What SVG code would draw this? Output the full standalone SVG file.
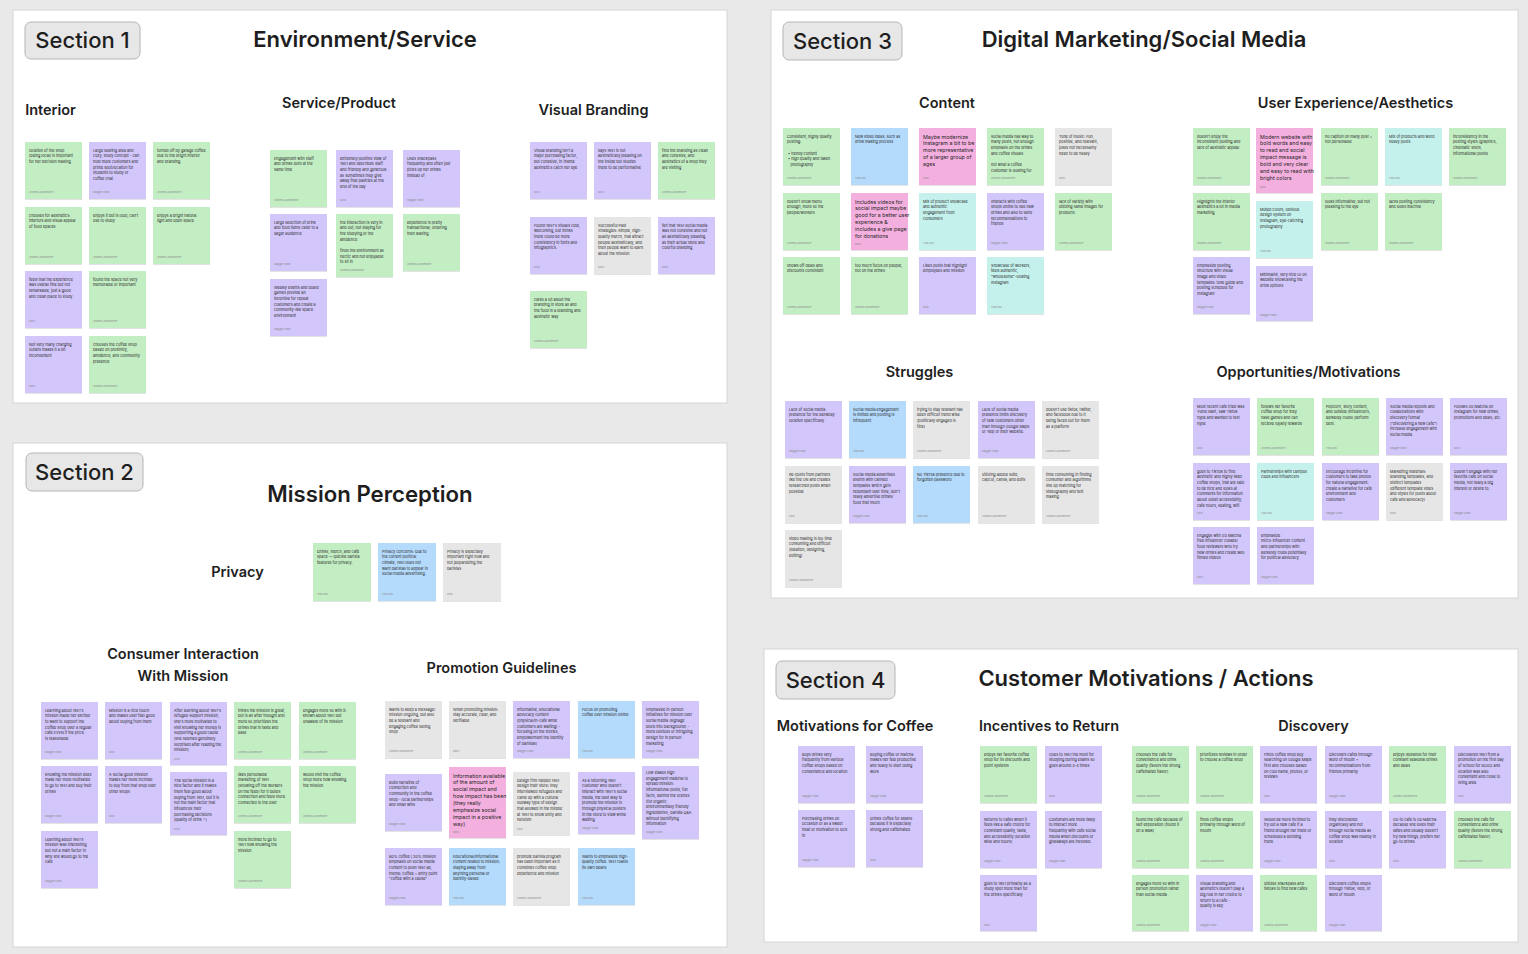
<svg xmlns="http://www.w3.org/2000/svg" width="1528" height="954" viewBox="0 0 1528 954">
<defs>
<filter id="sh" x="-10%" y="-10%" width="120%" height="125%"><feDropShadow dx="0" dy="0.6" stdDeviation="0.6" flood-color="#000" flood-opacity="0.18"/></filter>
<style>
.bg{fill:#e9e9e9}
.panel{fill:#fff;stroke:#d6d6d6;stroke-width:1}
.sec rect{fill:#e7e7e7;stroke:#b5b5b5;stroke-width:1}
.sec text{font-family:Inter,"Liberation Sans",sans-serif;font-size:22px;font-weight:500;fill:#1e1e1e;text-anchor:middle}
.ttl{font-family:Inter,"Liberation Sans",sans-serif;font-size:22px;font-weight:600;fill:#1e1e1e;text-anchor:middle}
.sub{font-family:Inter,"Liberation Sans",sans-serif;font-size:14.5px;font-weight:600;fill:#1e1e1e;text-anchor:middle}
.n rect{filter:url(#sh)}
.g{fill:#c3edc3}.p{fill:#d3c6fb}.b{fill:#b4dafc}.y{fill:#e6e6e6}.k{fill:#f3afdd}.c{fill:#c4f1ec}
.t{font-family:Inter,"Liberation Sans",sans-serif;font-size:3.75px;fill:#262626}
.tb{font-family:Inter,"Liberation Sans",sans-serif;font-size:5.3px;fill:#262626}
.a{font-family:Inter,"Liberation Sans",sans-serif;font-size:2.6px;fill:#8a8a8a}
</style>
</defs>
<rect class="bg" x="0" y="0" width="1528" height="954"/>

<g id="panels">
<rect class="panel" x="13" y="10" width="714" height="393"/>
<rect class="panel" x="771" y="10" width="747" height="588"/>
<rect class="panel" x="13" y="443" width="714" height="504"/>
<rect class="panel" x="764" y="649" width="754" height="293"/>
</g>

<g id="headers">
<g class="sec" id="sec1"><rect x="25" y="22" width="115" height="37" rx="6"/><text x="82.5" y="48">Section 1</text></g>
<g class="sec" id="sec3"><rect x="783" y="22" width="119" height="38" rx="6"/><text x="842.5" y="48.5">Section 3</text></g>
<g class="sec" id="sec2"><rect x="26" y="453" width="117" height="38" rx="6"/><text x="84.5" y="480">Section 2</text></g>
<g class="sec" id="sec4"><rect x="776" y="661" width="119" height="38" rx="6"/><text x="835.5" y="688">Section 4</text></g>
<text class="ttl" x="365" y="47">Environment/Service</text>
<text class="ttl" x="1144" y="47">Digital Marketing/Social Media</text>
<text class="ttl" x="370" y="502" style="font-size:22.2px">Mission Perception</text>
<text class="ttl" x="1146" y="686">Customer Motivations / Actions</text>
<text class="sub" x="50.5" y="115">Interior</text>
<text class="sub" x="339" y="108">Service/Product</text>
<text class="sub" x="593.5" y="115">Visual Branding</text>
<text class="sub" x="947" y="108">Content</text>
<text class="sub" x="1355.5" y="108">User Experience/Aesthetics</text>
<text class="sub" x="919.5" y="377">Struggles</text>
<text class="sub" x="1308.5" y="377">Opportunities/Motivations</text>
<text class="sub" x="237.5" y="577">Privacy</text>
<text class="sub" x="183" y="659">Consumer Interaction</text>
<text class="sub" x="183" y="681">With Mission</text>
<text class="sub" x="501.5" y="673">Promotion Guidelines</text>
<text class="sub" x="855" y="731">Motivations for Coffee</text>
<text class="sub" x="1049" y="731">Incentives to Return</text>
<text class="sub" x="1313.5" y="731">Discovery</text>
</g>

<!-- Section 1: Interior -->
<g id="s1-interior">
<g class="n" id="int1" transform="translate(25,142)"><rect class="g" width="57" height="57"/><text class="t"><tspan x="4" y="9.5">location of the shop</tspan><tspan x="4" y="15.2">(being local) is important</tspan><tspan x="4" y="20.9">for her decision making</tspan></text><text class="a" x="4" y="51">Andrea Lauramonte</text></g>
<g class="n" id="int2" transform="translate(89,142)"><rect class="p" width="57" height="57"/><text class="t"><tspan x="4" y="9.5">Large seating area and</tspan><tspan x="4" y="15.2">cozy, study concept - can</tspan><tspan x="4" y="20.9">hold more customers and</tspan><tspan x="4" y="26.6">prime spot/location for</tspan><tspan x="4" y="32.3">students to study or</tspan><tspan x="4" y="38">coffee chat</tspan></text><text class="a" x="4" y="51">Maggie Kwan</text></g>
<g class="n" id="int3" transform="translate(153,142)"><rect class="g" width="57" height="57"/><text class="t"><tspan x="4" y="9.5">turned off by garage coffee</tspan><tspan x="4" y="15.2">due to the bright interior</tspan><tspan x="4" y="20.9">and branding</tspan></text><text class="a" x="4" y="51">Andrea Lauramonte</text></g>
<g class="n" id="int4" transform="translate(25,207)"><rect class="g" width="57" height="57"/><text class="t"><tspan x="4" y="9.5">chooses for aesthetics:</tspan><tspan x="4" y="15.2">interiors and visual appeal</tspan><tspan x="4" y="20.9">of food spaces</tspan></text><text class="a" x="4" y="51">Andrea Lauramonte</text></g>
<g class="n" id="int5" transform="translate(89,207)"><rect class="g" width="57" height="57"/><text class="t"><tspan x="4" y="9.5">enjoys it but is loud, can't</tspan><tspan x="4" y="15.2">use to study</tspan></text><text class="a" x="4" y="51">Andrea Lauramonte</text></g>
<g class="n" id="int6" transform="translate(153,207)"><rect class="g" width="57" height="57"/><text class="t"><tspan x="4" y="9.5">enjoys a bright natural</tspan><tspan x="4" y="15.2">light and open space</tspan></text><text class="a" x="4" y="51">Andrea Lauramonte</text></g>
<g class="n" id="int7" transform="translate(25,271)"><rect class="p" width="57" height="57"/><text class="t"><tspan x="4" y="9.5">feels that the experience</tspan><tspan x="4" y="15.2">was overall fine but not</tspan><tspan x="4" y="20.9">remarkable, just a good</tspan><tspan x="4" y="26.6">and clean place to study</tspan></text><text class="a" x="4" y="51">Nikki</text></g>
<g class="n" id="int8" transform="translate(89,271)"><rect class="g" width="57" height="57"/><text class="t"><tspan x="4" y="9.5">found the space not very</tspan><tspan x="4" y="15.2">memorable or important</tspan></text><text class="a" x="4" y="51">Andrea Lauramonte</text></g>
<g class="n" id="int9" transform="translate(25,336)"><rect class="p" width="57" height="57"/><text class="t"><tspan x="4" y="9.5">Not very many charging</tspan><tspan x="4" y="15.2">outlets makes it a bit</tspan><tspan x="4" y="20.9">inconvenient</tspan></text><text class="a" x="4" y="51">Nikki</text></g>
<g class="n" id="int10" transform="translate(89,336)"><rect class="g" width="57" height="57"/><text class="t"><tspan x="4" y="9.5">chooses the coffee shop</tspan><tspan x="4" y="15.2">based on proximity,</tspan><tspan x="4" y="20.9">ambience, and community</tspan><tspan x="4" y="26.6">presence</tspan></text><text class="a" x="4" y="51">Andrea Lauramonte</text></g>
</g>

<!-- Section 1: Service/Product -->
<g id="s1-service">
<g class="n" id="svc1" transform="translate(270,150)"><rect class="g" width="57" height="57"/><text class="t"><tspan x="4" y="9.5">Engagement with staff</tspan><tspan x="4" y="15.2">and drinks both at the</tspan><tspan x="4" y="20.9">same time</tspan></text><text class="a" x="4" y="51">Andrea Lauramonte</text></g>
<g class="n" id="svc2" transform="translate(336,150)"><rect class="p" width="57" height="57"/><text class="t"><tspan x="4" y="9.5">extremely positive view of</tspan><tspan x="4" y="15.2">1951 and describes staff</tspan><tspan x="4" y="20.9">and friendly and generous</tspan><tspan x="4" y="26.6">as sometimes they give</tspan><tspan x="4" y="32.3">away free pastries at the</tspan><tspan x="4" y="38">end of the day</tspan></text><text class="a" x="4" y="51">Nikki</text></g>
<g class="n" id="svc3" transform="translate(403,150)"><rect class="p" width="57" height="57"/><text class="t"><tspan x="4" y="9.5">Uses Snackpass</tspan><tspan x="4" y="15.2">frequently and often just</tspan><tspan x="4" y="20.9">picks up her drinks</tspan><tspan x="4" y="26.6">instead of</tspan></text><text class="a" x="4" y="51">Maggie Kwan</text></g>
<g class="n" id="svc4" transform="translate(270,214)"><rect class="p" width="57" height="57"/><text class="t"><tspan x="4" y="9.5">Large selection of drink</tspan><tspan x="4" y="15.2">and food items cater to a</tspan><tspan x="4" y="20.9">larger audience</tspan></text><text class="a" x="4" y="51">Maggie Kwan</text></g>
<g class="n" id="svc5" transform="translate(336,214)"><rect class="g" width="57" height="63"/><text class="t"><tspan x="4" y="9.5">the interaction is very in</tspan><tspan x="4" y="15.2">and out, not staying for</tspan><tspan x="4" y="20.9">the studying or the</tspan><tspan x="4" y="26.6">ambience</tspan><tspan x="4" y="38">finds the environment as</tspan><tspan x="4" y="43.7">hectic and not enjoyable</tspan><tspan x="4" y="49.4">to sit in</tspan></text><text class="a" x="4" y="57">Andrea Lauramonte</text></g>
<g class="n" id="svc6" transform="translate(403,214)"><rect class="g" width="57" height="57"/><text class="t"><tspan x="4" y="9.5">experience is pretty</tspan><tspan x="4" y="15.2">transactional, ordering</tspan><tspan x="4" y="20.9">then leaving</tspan></text><text class="a" x="4" y="51">Andrea Lauramonte</text></g>
<g class="n" id="svc7" transform="translate(270,279)"><rect class="p" width="57" height="57"/><text class="t"><tspan x="4" y="9.5">Weekly events and board</tspan><tspan x="4" y="15.2">games provide an</tspan><tspan x="4" y="20.9">incentive for repeat</tspan><tspan x="4" y="26.6">customers and create a</tspan><tspan x="4" y="32.3">community-like space</tspan><tspan x="4" y="38">environment</tspan></text><text class="a" x="4" y="51">Maggie Kwan</text></g>
</g>

<!-- Section 1: Visual Branding -->
<g id="s1-branding">
<g class="n" id="vb1" transform="translate(530,142)"><rect class="p" width="57" height="57"/><text class="t"><tspan x="4" y="9.5">Visual branding isn't a</tspan><tspan x="4" y="15.2">major purchasing factor,</tspan><tspan x="4" y="20.9">but cohesive, in-theme</tspan><tspan x="4" y="26.6">aesthetics catch her eye</tspan></text><text class="a" x="4" y="51">Mira</text></g>
<g class="n" id="vb2" transform="translate(594,142)"><rect class="p" width="57" height="57"/><text class="t"><tspan x="4" y="9.5">says 1951 is not</tspan><tspan x="4" y="15.2">aesthetically pleasing on</tspan><tspan x="4" y="20.9">the inside but studies</tspan><tspan x="4" y="26.6">there to be performative</tspan></text><text class="a" x="4" y="51">Nikki</text></g>
<g class="n" id="vb3" transform="translate(658,142)"><rect class="g" width="57" height="57"/><text class="t"><tspan x="4" y="9.5">find the branding as clean</tspan><tspan x="4" y="15.2">and cohesive, and</tspan><tspan x="4" y="20.9">aesthetics of a shop they</tspan><tspan x="4" y="26.6">are visiting</tspan></text><text class="a" x="4" y="51">Andrea Lauramonte</text></g>
<g class="n" id="vb4" transform="translate(530,217)"><rect class="p" width="57" height="57"/><text class="t"><tspan x="4" y="9.5">Found 1951's visuals cute,</tspan><tspan x="4" y="15.2">welcoming, but thinks</tspan><tspan x="4" y="20.9">there could be more</tspan><tspan x="4" y="26.6">consistency in fonts and</tspan><tspan x="4" y="32.3">infographics.</tspan></text><text class="a" x="4" y="51">Mira</text></g>
<g class="n" id="vb5" transform="translate(594,217)"><rect class="y" width="57" height="57"/><text class="t"><tspan x="4" y="9.5">Successful Past</tspan><tspan x="4" y="15.2">Strategies: Simple, high-</tspan><tspan x="4" y="20.9">quality merch, that attract</tspan><tspan x="4" y="26.6">people aesthetically, and</tspan><tspan x="4" y="32.3">then people want to learn</tspan><tspan x="4" y="38">about the mission</tspan></text><text class="a" x="4" y="51">Nikki</text></g>
<g class="n" id="vb6" transform="translate(658,217)"><rect class="p" width="57" height="57"/><text class="t"><tspan x="4" y="9.5">felt that 1951 social media</tspan><tspan x="4" y="15.2">was not cohesive and not</tspan><tspan x="4" y="20.9">as aesthetically pleasing</tspan><tspan x="4" y="26.6">as their actual store and</tspan><tspan x="4" y="32.3">colorful branding</tspan></text><text class="a" x="4" y="51">Nikki</text></g>
<g class="n" id="vb7" transform="translate(530,291)"><rect class="g" width="57" height="57"/><text class="t"><tspan x="4" y="9.5">cares a lot about the</tspan><tspan x="4" y="15.2">branding in store all and</tspan><tspan x="4" y="20.9">the food in a branding and</tspan><tspan x="4" y="26.6">aesthetic way</tspan></text><text class="a" x="4" y="51">Andrea Lauramonte</text></g>
</g>

<!-- Section 3: Content -->
<g id="s3-content">
<g class="n" id="ct1" transform="translate(783,128)"><rect class="g" width="57" height="57"/><text class="t"><tspan x="4" y="9.5">Consistent, highly quality</tspan><tspan x="4" y="15.2">posting:</tspan><tspan x="5" y="26.6">• trendy content</tspan><tspan x="5" y="32.3">• high quality and taken</tspan><tspan x="7.5" y="38">photography</tspan></text><text class="a" x="4" y="51">Andrea Lauramonte</text></g>
<g class="n" id="ct2" transform="translate(851,128)"><rect class="b" width="57" height="57"/><text class="t"><tspan x="4" y="9.5">New video ideas, such as</tspan><tspan x="4" y="15.2">drink making process</tspan></text><text class="a" x="4" y="51">Tina Zou</text></g>
<g class="n" id="ct3" transform="translate(919,128)"><rect class="k" width="57" height="57"/><text class="tb"><tspan x="4" y="10.5">Maybe modernize</tspan><tspan x="4" y="17.4">Instagram a bit to be</tspan><tspan x="4" y="24.3">more representative</tspan><tspan x="4" y="31.2">of a larger group of</tspan><tspan x="4" y="38.1">ages</tspan></text><text class="a" x="4" y="51">Mira</text></g>
<g class="n" id="ct4" transform="translate(987,128)"><rect class="g" width="57" height="57"/><text class="t"><tspan x="4" y="9.5">social media has way to</tspan><tspan x="4" y="15.2">many posts, not enough</tspan><tspan x="4" y="20.9">emphasis on the drinks</tspan><tspan x="4" y="26.6">and coffee visuals</tspan><tspan x="4" y="38">not what a coffee</tspan><tspan x="4" y="43.7">customer is looking for</tspan></text><text class="a" x="4" y="51">Andrea Lauramonte</text></g>
<g class="n" id="ct5" transform="translate(1055,128)"><rect class="y" width="57" height="57"/><text class="t"><tspan x="4" y="9.5">Tone of music: Fun,</tspan><tspan x="4" y="15.2">positive, and relevant,</tspan><tspan x="4" y="20.9">jokes not necessarily</tspan><tspan x="4" y="26.6">need to be heavy</tspan></text><text class="a" x="4" y="51">Nikki</text></g>
<g class="n" id="ct6" transform="translate(783,193)"><rect class="g" width="57" height="57"/><text class="t"><tspan x="4" y="9.5">doesn't show menu</tspan><tspan x="4" y="15.2">enough, more so the</tspan><tspan x="4" y="20.9">people/workers</tspan></text><text class="a" x="4" y="51">Andrea Lauramonte</text></g>
<g class="n" id="ct7" transform="translate(851,193)"><rect class="k" width="57" height="57"/><text class="tb"><tspan x="4" y="10.5">Includes videos for</tspan><tspan x="4" y="17.4">social impact maybe</tspan><tspan x="4" y="24.3">good for a better user</tspan><tspan x="4" y="31.2">experience &amp;</tspan><tspan x="4" y="38.1">includes a give page</tspan><tspan x="4" y="45">for donations</tspan></text><text class="a" x="4" y="52">Mira</text></g>
<g class="n" id="ct8" transform="translate(919,193)"><rect class="c" width="57" height="57"/><text class="t"><tspan x="4" y="9.5">Mix of product showcase</tspan><tspan x="4" y="15.2">and authentic</tspan><tspan x="4" y="20.9">engagement from</tspan><tspan x="4" y="26.6">consumers</tspan></text><text class="a" x="4" y="51">Tina Zou</text></g>
<g class="n" id="ct9" transform="translate(987,193)"><rect class="p" width="57" height="57"/><text class="t"><tspan x="4" y="9.5">Interacts with coffee</tspan><tspan x="4" y="15.2">shops online to see new</tspan><tspan x="4" y="20.9">drinks and also to send</tspan><tspan x="4" y="26.6">recommendations to</tspan><tspan x="4" y="32.3">friends</tspan></text><text class="a" x="4" y="51">Maggie Kwan</text></g>
<g class="n" id="ct10" transform="translate(1055,193)"><rect class="g" width="57" height="57"/><text class="t"><tspan x="4" y="9.5">lack of variety with</tspan><tspan x="4" y="15.2">utilizing same images for</tspan><tspan x="4" y="20.9">products</tspan></text><text class="a" x="4" y="51">Andrea Lauramonte</text></g>
<g class="n" id="ct11" transform="translate(783,257)"><rect class="g" width="57" height="57"/><text class="t"><tspan x="4" y="9.5">shows off deals and</tspan><tspan x="4" y="15.2">discounts consistent</tspan></text><text class="a" x="4" y="51">Andrea Lauramonte</text></g>
<g class="n" id="ct12" transform="translate(851,257)"><rect class="g" width="57" height="57"/><text class="t"><tspan x="4" y="9.5">too much focus on people,</tspan><tspan x="4" y="15.2">not on the drinks</tspan></text><text class="a" x="4" y="51">Andrea Lauramonte</text></g>
<g class="n" id="ct13" transform="translate(919,257)"><rect class="p" width="57" height="57"/><text class="t"><tspan x="4" y="9.5">Likes posts that highlight</tspan><tspan x="4" y="15.2">employees and mission</tspan></text><text class="a" x="4" y="51">Mira</text></g>
<g class="n" id="ct14" transform="translate(987,257)"><rect class="c" width="57" height="57"/><text class="t"><tspan x="4" y="9.5">Showcase of workers,</tspan><tspan x="4" y="15.2">feels authentic,</tspan><tspan x="4" y="20.9">"wholesome"-looking</tspan><tspan x="4" y="26.6">Instagram</tspan></text><text class="a" x="4" y="51">Tina Zou</text></g>
</g>

<!-- Section 3: UX -->
<g id="s3-ux">
<g class="n" id="ux1" transform="translate(1193,128)"><rect class="g" width="57" height="57"/><text class="t"><tspan x="4" y="9.5">doesn't enjoy the</tspan><tspan x="4" y="15.2">inconsistent posting and</tspan><tspan x="4" y="20.9">lack of aesthetic appeal</tspan></text><text class="a" x="4" y="51">Andrea Lauramonte</text></g>
<g class="n" id="ux2" transform="translate(1256,128)"><rect class="k" width="57" height="65"/><text class="tb"><tspan x="4" y="10.5">Modern website with</tspan><tspan x="4" y="17.4">bold words and easy</tspan><tspan x="4" y="24.3">to read and social</tspan><tspan x="4" y="31.2">impact message is</tspan><tspan x="4" y="38.1">bold and very clear</tspan><tspan x="4" y="45">and easy to read with</tspan><tspan x="4" y="51.9">bright colors</tspan></text><text class="a" x="4" y="60">Mira</text></g>
<g class="n" id="ux3" transform="translate(1321,128)"><rect class="g" width="57" height="57"/><text class="t"><tspan x="4" y="9.5">no caption on many post =</tspan><tspan x="4" y="15.2">not personable</tspan></text><text class="a" x="4" y="51">Andrea Lauramonte</text></g>
<g class="n" id="ux4" transform="translate(1385,128)"><rect class="c" width="57" height="57"/><text class="t"><tspan x="4" y="9.5">Mix of products and word</tspan><tspan x="4" y="15.2">heavy posts</tspan></text><text class="a" x="4" y="51">Tina Zou</text></g>
<g class="n" id="ux5" transform="translate(1449,128)"><rect class="g" width="57" height="57"/><text class="t"><tspan x="4" y="9.5">inconsistency in the</tspan><tspan x="4" y="15.2">posting styles (graphics,</tspan><tspan x="4" y="20.9">cinematic shots,</tspan><tspan x="4" y="26.6">informational posts)</tspan></text><text class="a" x="4" y="51">Andrea Lauramonte</text></g>
<g class="n" id="ux6" transform="translate(1193,193)"><rect class="g" width="57" height="57"/><text class="t"><tspan x="4" y="9.5">Highlights the interior</tspan><tspan x="4" y="15.2">aesthetics a lot in media</tspan><tspan x="4" y="20.9">marketing</tspan></text><text class="a" x="4" y="51">Andrea Lauramonte</text></g>
<g class="n" id="ux7" transform="translate(1256,201)"><rect class="c" width="57" height="57"/><text class="t"><tspan x="4" y="9.5">Muted colors, obvious</tspan><tspan x="4" y="15.2">design system on</tspan><tspan x="4" y="20.9">Instagram, eye-catching</tspan><tspan x="4" y="26.6">photography</tspan></text><text class="a" x="4" y="51">Tina Zou</text></g>
<g class="n" id="ux8" transform="translate(1321,193)"><rect class="g" width="57" height="57"/><text class="t"><tspan x="4" y="9.5">looks informative, but not</tspan><tspan x="4" y="15.2">pleasing to the eye</tspan></text><text class="a" x="4" y="51">Andrea Lauramonte</text></g>
<g class="n" id="ux9" transform="translate(1385,193)"><rect class="g" width="57" height="57"/><text class="t"><tspan x="4" y="9.5">lacks posting consistency</tspan><tspan x="4" y="15.2">and looks inactive</tspan></text><text class="a" x="4" y="51">Andrea Lauramonte</text></g>
<g class="n" id="ux10" transform="translate(1193,257)"><rect class="p" width="57" height="57"/><text class="t"><tspan x="4" y="9.5">Emphasize posting</tspan><tspan x="4" y="15.2">structure with visual</tspan><tspan x="4" y="20.9">image and video</tspan><tspan x="4" y="26.6">templates: tone guide and</tspan><tspan x="4" y="32.3">posting schedule for</tspan><tspan x="4" y="38">Instagram</tspan></text><text class="a" x="4" y="51">Maggie Kwan</text></g>
<g class="n" id="ux11" transform="translate(1256,266)"><rect class="p" width="57" height="55"/><text class="t"><tspan x="4" y="9.5">Minimalist, very nice UI on</tspan><tspan x="4" y="15.2">website showcasing the</tspan><tspan x="4" y="20.9">drink options</tspan></text><text class="a" x="4" y="50">Maggie Kwan</text></g>
</g>

<!-- Section 3: Struggles -->
<g id="s3-struggles">
<g class="n" id="st1" transform="translate(785,401)"><rect class="p" width="57" height="57"/><text class="t"><tspan x="4" y="9.5">Lack of social media</tspan><tspan x="4" y="15.2">presence for the Berkeley</tspan><tspan x="4" y="20.9">location specifically</tspan></text><text class="a" x="4" y="51">Maggie Kwan</text></g>
<g class="n" id="st2" transform="translate(849,401)"><rect class="b" width="57" height="57"/><text class="t"><tspan x="4" y="9.5">Social media engagement</tspan><tspan x="4" y="15.2">is limited and posting is</tspan><tspan x="4" y="20.9">infrequent</tspan></text><text class="a" x="4" y="51">Tina Zou</text></g>
<g class="n" id="st3" transform="translate(913,401)"><rect class="y" width="57" height="57"/><text class="t"><tspan x="4" y="9.5">trying to stay relevant has</tspan><tspan x="4" y="15.2">been difficult trend wise</tspan><tspan x="4" y="20.9">(politically engaged is</tspan><tspan x="4" y="26.6">fine)</tspan></text><text class="a" x="4" y="51">Andrea Lauramonte</text></g>
<g class="n" id="st4" transform="translate(978,401)"><rect class="p" width="57" height="57"/><text class="t"><tspan x="4" y="9.5">Lack of social media</tspan><tspan x="4" y="15.2">presence limits discovery</tspan><tspan x="4" y="20.9">of new customers other</tspan><tspan x="4" y="26.6">than through Google Maps</tspan><tspan x="4" y="32.3">or Yelp or their website.</tspan></text><text class="a" x="4" y="51">Maggie Kwan</text></g>
<g class="n" id="st5" transform="translate(1042,401)"><rect class="y" width="57" height="57"/><text class="t"><tspan x="4" y="9.5">doesn't use tiktok, twitter,</tspan><tspan x="4" y="15.2">and facebook due to it</tspan><tspan x="4" y="20.9">being faced out for them</tspan><tspan x="4" y="26.6">as a platform</tspan></text><text class="a" x="4" y="51">Andrea Lauramonte</text></g>
<g class="n" id="st6" transform="translate(785,466)"><rect class="y" width="57" height="57"/><text class="t"><tspan x="4" y="9.5">Re-posts from partners</tspan><tspan x="4" y="15.2">like the UN and creates</tspan><tspan x="4" y="20.9">researched posts when</tspan><tspan x="4" y="26.6">possible</tspan></text><text class="a" x="4" y="51">Mira</text></g>
<g class="n" id="st7" transform="translate(849,466)"><rect class="p" width="57" height="57"/><text class="t"><tspan x="4" y="9.5">Social media advertises</tspan><tspan x="4" y="15.2">events with canned</tspan><tspan x="4" y="20.9">templates which gets</tspan><tspan x="4" y="26.6">redundant over time, don't</tspan><tspan x="4" y="32.3">really advertise drinks/</tspan><tspan x="4" y="38">food that much</tspan></text><text class="a" x="4" y="51">Maggie Kwan</text></g>
<g class="n" id="st8" transform="translate(913,466)"><rect class="b" width="57" height="57"/><text class="t"><tspan x="4" y="9.5">No TikTok presence due to</tspan><tspan x="4" y="15.2">forgotten password</tspan></text><text class="a" x="4" y="51">Tina Zou</text></g>
<g class="n" id="st9" transform="translate(978,466)"><rect class="y" width="57" height="57"/><text class="t"><tspan x="4" y="9.5">utilizing adobe suite,</tspan><tspan x="4" y="15.2">capcut, canva, and edits</tspan></text><text class="a" x="4" y="51">Andrea Lauramonte</text></g>
<g class="n" id="st10" transform="translate(1042,466)"><rect class="y" width="57" height="57"/><text class="t"><tspan x="4" y="9.5">time consuming in finding</tspan><tspan x="4" y="15.2">consumer and algorithms</tspan><tspan x="4" y="20.9">line up matching for</tspan><tspan x="4" y="26.6">videography and text</tspan><tspan x="4" y="32.3">making</tspan></text><text class="a" x="4" y="51">Andrea Lauramonte</text></g>
<g class="n" id="st11" transform="translate(785,530)"><rect class="y" width="57" height="57"/><text class="t"><tspan x="4" y="9.5">video making is too time</tspan><tspan x="4" y="15.2">consuming and difficult</tspan><tspan x="4" y="20.9">(ideation, designing,</tspan><tspan x="4" y="26.6">editing)</tspan></text><text class="a" x="4" y="51">Andrea Lauramonte</text></g>
</g>

<!-- Section 3: Opportunities -->
<g id="s3-opps">
<g class="n" id="op1" transform="translate(1193,398)"><rect class="p" width="57" height="57"/><text class="t"><tspan x="4" y="9.5">Most recent cafe tried was</tspan><tspan x="4" y="15.2">Yume Mart, saw Tiktok</tspan><tspan x="4" y="20.9">hype and wanted to test</tspan><tspan x="4" y="26.6">hype</tspan></text><text class="a" x="4" y="51">Mira</text></g>
<g class="n" id="op2" transform="translate(1257,398)"><rect class="g" width="57" height="57"/><text class="t"><tspan x="4" y="9.5">follows her favorite</tspan><tspan x="4" y="15.2">coffee shop for they</tspan><tspan x="4" y="20.9">have games and can</tspan><tspan x="4" y="26.6">recieve loyalty rewards</tspan></text><text class="a" x="4" y="51">Andrea Lauramonte</text></g>
<g class="n" id="op3" transform="translate(1322,398)"><rect class="g" width="57" height="57"/><text class="t"><tspan x="4" y="9.5">Popcorn, story content,</tspan><tspan x="4" y="15.2">and outside (influencers,</tspan><tspan x="4" y="20.9">Berkeley clubs) perform</tspan><tspan x="4" y="26.6">best.</tspan></text><text class="a" x="4" y="51">Tina Zou</text></g>
<g class="n" id="op4" transform="translate(1386,398)"><rect class="p" width="57" height="57"/><text class="t"><tspan x="4" y="9.5">Social media reposts and</tspan><tspan x="4" y="15.2">collaborations with</tspan><tspan x="4" y="20.9">discovery format</tspan><tspan x="4" y="26.6">("discovering a new cafe")</tspan><tspan x="4" y="32.3">increase engagement with</tspan><tspan x="4" y="38">social media</tspan></text><text class="a" x="4" y="51">Maggie Kwan</text></g>
<g class="n" id="op5" transform="translate(1450,398)"><rect class="p" width="57" height="57"/><text class="t"><tspan x="4" y="9.5">Follows Go Matcha on</tspan><tspan x="4" y="15.2">Instagram for new drinks,</tspan><tspan x="4" y="20.9">promotions and deals, etc.</tspan></text><text class="a" x="4" y="51">Nikki</text></g>
<g class="n" id="op6" transform="translate(1193,463)"><rect class="p" width="57" height="57"/><text class="t"><tspan x="4" y="9.5">goes to TikTok to find</tspan><tspan x="4" y="15.2">aesthetic and highly liked</tspan><tspan x="4" y="20.9">coffee shops, that are said</tspan><tspan x="4" y="26.6">to be nice and looks at</tspan><tspan x="4" y="32.3">comments for information</tspan><tspan x="4" y="38">about outlet accessibility,</tspan><tspan x="4" y="43.7">cafe hours, seating, wifi</tspan></text><text class="a" x="4" y="51">Mira</text></g>
<g class="n" id="op7" transform="translate(1257,463)"><rect class="c" width="57" height="57"/><text class="t"><tspan x="4" y="9.5">Partnerships with campus</tspan><tspan x="4" y="15.2">clubs and influencers</tspan></text><text class="a" x="4" y="51">Tina Zou</text></g>
<g class="n" id="op8" transform="translate(1322,463)"><rect class="p" width="57" height="57"/><text class="t"><tspan x="4" y="9.5">Encourage incentive for</tspan><tspan x="4" y="15.2">customers to take photos</tspan><tspan x="4" y="20.9">for natural engagement;</tspan><tspan x="4" y="26.6">create a narrative for cafe</tspan><tspan x="4" y="32.3">environment and</tspan><tspan x="4" y="38">customers</tspan></text><text class="a" x="4" y="51">Maggie Kwan</text></g>
<g class="n" id="op9" transform="translate(1386,463)"><rect class="y" width="57" height="57"/><text class="t"><tspan x="4" y="9.5">Marketing materials:</tspan><tspan x="4" y="15.2">Branding templates, and</tspan><tspan x="4" y="20.9">distinct templates</tspan><tspan x="4" y="26.6">(different template vibes</tspan><tspan x="4" y="32.3">and styles for posts about</tspan><tspan x="4" y="38">cafe and advocacy)</tspan></text><text class="a" x="4" y="51">Nikki</text></g>
<g class="n" id="op10" transform="translate(1450,463)"><rect class="p" width="57" height="57"/><text class="t"><tspan x="4" y="9.5">Doesn't engage with her</tspan><tspan x="4" y="15.2">favorite cafe on social</tspan><tspan x="4" y="20.9">media, not really a big</tspan><tspan x="4" y="26.6">interest or desire to.</tspan></text><text class="a" x="4" y="51">Maggie Kwan</text></g>
<g class="n" id="op11" transform="translate(1193,527)"><rect class="p" width="57" height="57"/><text class="t"><tspan x="4" y="9.5">Engages with Go Matcha</tspan><tspan x="4" y="15.2">free influencer collabs/</tspan><tspan x="4" y="20.9">food reviewers who try</tspan><tspan x="4" y="26.6">new drinks and create well</tspan><tspan x="4" y="32.3">filmed videos</tspan></text><text class="a" x="4" y="51">Nikki</text></g>
<g class="n" id="op12" transform="translate(1257,527)"><rect class="p" width="57" height="57"/><text class="t"><tspan x="4" y="9.5">emphasize</tspan><tspan x="4" y="15.2">micro-influencer content</tspan><tspan x="4" y="20.9">and partnerships with</tspan><tspan x="4" y="26.6">Berkeley clubs potentially</tspan><tspan x="4" y="32.3">for political advocacy</tspan></text><text class="a" x="4" y="51">Maggie Kwan</text></g>
</g>

<!-- Section 2: Privacy -->
<g id="s2-privacy">
<g class="n" id="pv1" transform="translate(313,543)"><rect class="g" width="58" height="58"/><text class="t"><tspan x="4" y="9.5">Drinks, merch, and café</tspan><tspan x="4" y="15.2">space — quickie barista</tspan><tspan x="4" y="20.9">features for privacy.</tspan></text><text class="a" x="4" y="52">Tina Zou</text></g>
<g class="n" id="pv2" transform="translate(378,543)"><rect class="b" width="58" height="58"/><text class="t"><tspan x="4" y="9.5">Privacy concerns: Due to</tspan><tspan x="4" y="15.2">the current political</tspan><tspan x="4" y="20.9">climate, 1951 does not</tspan><tspan x="4" y="26.6">want baristas to appear in</tspan><tspan x="4" y="32.3">social media advertising.</tspan></text><text class="a" x="4" y="52">Tina Zou</text></g>
<g class="n" id="pv3" transform="translate(443,543)"><rect class="y" width="58" height="58"/><text class="t"><tspan x="4" y="9.5">Privacy is especially</tspan><tspan x="4" y="15.2">important right now and</tspan><tspan x="4" y="20.9">not jeopardizing the</tspan><tspan x="4" y="26.6">baristas</tspan></text><text class="a" x="4" y="52">Mira</text></g>
</g>

<!-- Section 2: Consumer Interaction -->
<g id="s2-consumer">
<g class="n" id="ci1" transform="translate(41,702)"><rect class="p" width="57" height="57"/><text class="t"><tspan x="4" y="9.5">Learning about 1951's</tspan><tspan x="4" y="15.2">mission made her excited</tspan><tspan x="4" y="20.9">to want to support the</tspan><tspan x="4" y="26.6">coffee shop over a regular</tspan><tspan x="4" y="32.3">cafe EVEN if the price</tspan><tspan x="4" y="38">is reasonable</tspan></text><text class="a" x="4" y="51">Maggie Kwan</text></g>
<g class="n" id="ci2" transform="translate(105,702)"><rect class="p" width="57" height="57"/><text class="t"><tspan x="4" y="9.5">Mission is a nice touch</tspan><tspan x="4" y="15.2">and makes user feel good</tspan><tspan x="4" y="20.9">about buying from them</tspan></text><text class="a" x="4" y="51">Mira</text></g>
<g class="n" id="ci3" transform="translate(170,702)"><rect class="p" width="57" height="63"/><text class="t"><tspan x="4" y="9.5">After learning about 1951's</tspan><tspan x="4" y="15.2">refugee-support mission,</tspan><tspan x="4" y="20.9">she's more motivated to</tspan><tspan x="4" y="26.6">visit knowing her money is</tspan><tspan x="4" y="32.3">supporting a good cause</tspan><tspan x="4" y="38">(she seemed genuinely</tspan><tspan x="4" y="43.7">surprised after reading the</tspan><tspan x="4" y="49.4">mission)</tspan></text><text class="a" x="4" y="58">Mira</text></g>
<g class="n" id="ci4" transform="translate(234,702)"><rect class="g" width="57" height="57"/><text class="t"><tspan x="4" y="9.5">thinks the mission is great,</tspan><tspan x="4" y="15.2">but is an after thought and</tspan><tspan x="4" y="20.9">more so prioritizes the</tspan><tspan x="4" y="26.6">drinks that in taste and</tspan><tspan x="4" y="32.3">ease</tspan></text><text class="a" x="4" y="51">Andrea Lauramonte</text></g>
<g class="n" id="ci5" transform="translate(299,702)"><rect class="g" width="57" height="57"/><text class="t"><tspan x="4" y="9.5">engages more so with it:</tspan><tspan x="4" y="15.2">known about 1951 but</tspan><tspan x="4" y="20.9">unaware of its mission</tspan></text><text class="a" x="4" y="51">Andrea Lauramonte</text></g>
<g class="n" id="ci6" transform="translate(41,766)"><rect class="p" width="57" height="57"/><text class="t"><tspan x="4" y="9.5">Knowing the mission does</tspan><tspan x="4" y="15.2">make her more motivated</tspan><tspan x="4" y="20.9">to go to 1951 and buy their</tspan><tspan x="4" y="26.6">drinks</tspan></text><text class="a" x="4" y="51">Maggie Kwan</text></g>
<g class="n" id="ci7" transform="translate(105,766)"><rect class="p" width="57" height="57"/><text class="t"><tspan x="4" y="9.5">A social good mission</tspan><tspan x="4" y="15.2">makes her more inclined</tspan><tspan x="4" y="20.9">to buy from that shop over</tspan><tspan x="4" y="26.6">other shops</tspan></text><text class="a" x="4" y="51">Mira</text></g>
<g class="n" id="ci8" transform="translate(170,772)"><rect class="p" width="57" height="63"/><text class="t"><tspan x="4" y="9.5">The social mission is a</tspan><tspan x="4" y="15.2">nice factor and it makes</tspan><tspan x="4" y="20.9">them feel good about</tspan><tspan x="4" y="26.6">buying from 1951, but it is</tspan><tspan x="4" y="32.3">not the main factor that</tspan><tspan x="4" y="38">influences their</tspan><tspan x="4" y="43.7">purchasing decisions</tspan><tspan x="4" y="49.4">(quality of drink &gt;)</tspan></text><text class="a" x="4" y="58">Mira</text></g>
<g class="n" id="ci9" transform="translate(234,766)"><rect class="g" width="57" height="57"/><text class="t"><tspan x="4" y="9.5">likes personable</tspan><tspan x="4" y="15.2">marketing of 1951</tspan><tspan x="4" y="20.9">(showing off the workers</tspan><tspan x="4" y="26.6">on the feed) for it builds</tspan><tspan x="4" y="32.3">connection and feels more</tspan><tspan x="4" y="38">connected to the user</tspan></text><text class="a" x="4" y="51">Andrea Lauramonte</text></g>
<g class="n" id="ci10" transform="translate(299,766)"><rect class="g" width="57" height="57"/><text class="t"><tspan x="4" y="9.5">would visit the coffee</tspan><tspan x="4" y="15.2">shop more now knowing</tspan><tspan x="4" y="20.9">the mission</tspan></text><text class="a" x="4" y="51">Andrea Lauramonte</text></g>
<g class="n" id="ci11" transform="translate(41,831)"><rect class="p" width="57" height="57"/><text class="t"><tspan x="4" y="9.5">Learning about 1951's</tspan><tspan x="4" y="15.2">mission was interesting</tspan><tspan x="4" y="20.9">but not a main factor in</tspan><tspan x="4" y="26.6">why she would go to the</tspan><tspan x="4" y="32.3">cafe</tspan></text><text class="a" x="4" y="51">Maggie Kwan</text></g>
<g class="n" id="ci12" transform="translate(234,831)"><rect class="g" width="57" height="57"/><text class="t"><tspan x="4" y="9.5">more inclined to go to</tspan><tspan x="4" y="15.2">1951 now knowing the</tspan><tspan x="4" y="20.9">mission</tspan></text><text class="a" x="4" y="51">Andrea Lauramonte</text></g>
</g>

<!-- Section 2: Promotion Guidelines -->
<g id="s2-promotion">
<g class="n" id="pg1" transform="translate(385,701)"><rect class="y" width="57" height="57"/><text class="t"><tspan x="4" y="9.5">wants to keep a message/</tspan><tspan x="4" y="15.2">mission ongoing, but also</tspan><tspan x="4" y="20.9">be a relevant and</tspan><tspan x="4" y="26.6">engaging coffee selling</tspan><tspan x="4" y="32.3">shop</tspan></text><text class="a" x="4" y="51">Andrea Lauramonte</text></g>
<g class="n" id="pg2" transform="translate(449,701)"><rect class="y" width="57" height="57"/><text class="t"><tspan x="4" y="9.5">When promoting mission:</tspan><tspan x="4" y="15.2">stay accurate, clear, and</tspan><tspan x="4" y="20.9">verifiable</tspan></text><text class="a" x="4" y="51">Nikki</text></g>
<g class="n" id="pg3" transform="translate(513,701)"><rect class="p" width="57" height="57"/><text class="t"><tspan x="4" y="9.5">Informative, educational</tspan><tspan x="4" y="15.2">advocacy content</tspan><tspan x="4" y="20.9">(physical/in-cafe while</tspan><tspan x="4" y="26.6">customers are waiting) -</tspan><tspan x="4" y="32.3">focusing on the stories,</tspan><tspan x="4" y="38">empowerment the identity</tspan><tspan x="4" y="43.7">of baristas)</tspan></text><text class="a" x="4" y="51">Maggie Kwan</text></g>
<g class="n" id="pg4" transform="translate(578,701)"><rect class="b" width="57" height="57"/><text class="t"><tspan x="4" y="9.5">Focus on promoting</tspan><tspan x="4" y="15.2">coffee over mission online</tspan></text><text class="a" x="4" y="51">Tina Zou</text></g>
<g class="n" id="pg5" transform="translate(642,701)"><rect class="p" width="57" height="57"/><text class="t"><tspan x="4" y="9.5">Emphasize in-person</tspan><tspan x="4" y="15.2">initiatives for mission over</tspan><tspan x="4" y="20.9">social media (signage</tspan><tspan x="4" y="26.6">blurb into background) -</tspan><tspan x="4" y="32.3">more obvious or intriguing</tspan><tspan x="4" y="38">design for in person</tspan><tspan x="4" y="43.7">marketing</tspan></text><text class="a" x="4" y="51">Maggie Kwan</text></g>
<g class="n" id="pg6" transform="translate(385,774)"><rect class="p" width="57" height="57"/><text class="t"><tspan x="4" y="9.5">Build narrative of</tspan><tspan x="4" y="15.2">connection and</tspan><tspan x="4" y="20.9">community in the coffee</tspan><tspan x="4" y="26.6">shop - local partnerships</tspan><tspan x="4" y="32.3">and small wins</tspan></text><text class="a" x="4" y="51">Maggie Kwan</text></g>
<g class="n" id="pg7" transform="translate(449,767)"><rect class="k" width="57" height="71"/><text class="tb"><tspan x="4" y="10.5">Information available</tspan><tspan x="4" y="17.4">of the amount of</tspan><tspan x="4" y="24.3">social impact and</tspan><tspan x="4" y="31.2">how impact has been</tspan><tspan x="4" y="38.1">(they really</tspan><tspan x="4" y="45">emphasize social</tspan><tspan x="4" y="51.9">impact in a positive</tspan><tspan x="4" y="58.8">way)</tspan></text><text class="a" x="4" y="66">Nikki</text></g>
<g class="n" id="pg8" transform="translate(513,772)"><rect class="y" width="57" height="63"/><text class="t"><tspan x="4" y="9.5">Design firm helped 1951</tspan><tspan x="4" y="15.2">design their store: they</tspan><tspan x="4" y="20.9">interviewed refugees and</tspan><tspan x="4" y="26.6">came up with a cultural</tspan><tspan x="4" y="32.3">subway type of design</tspan><tspan x="4" y="38">that allowed in the middle</tspan><tspan x="4" y="43.7">at 1951 to show unity and</tspan><tspan x="4" y="49.4">heroism</tspan></text><text class="a" x="4" y="58">Mira</text></g>
<g class="n" id="pg9" transform="translate(578,772)"><rect class="p" width="57" height="62"/><text class="t"><tspan x="4" y="9.5">As a returning 1951</tspan><tspan x="4" y="15.2">customer who doesn't</tspan><tspan x="4" y="20.9">interact with 1951's social</tspan><tspan x="4" y="26.6">media, the best way to</tspan><tspan x="4" y="32.3">promote the mission is</tspan><tspan x="4" y="38">through physical posters</tspan><tspan x="4" y="43.7">in the store to view while</tspan><tspan x="4" y="49.4">waiting</tspan></text><text class="a" x="4" y="57">Maggie Kwan</text></g>
<g class="n" id="pg10" transform="translate(642,766)"><rect class="p" width="57" height="73"/><text class="t"><tspan x="4" y="8">Low stakes high</tspan><tspan x="4" y="13.7">engagement material to</tspan><tspan x="4" y="19.4">spread mission:</tspan><tspan x="4" y="25.1">informational posts, fun</tspan><tspan x="4" y="30.8">facts, behind the scenes</tspan><tspan x="4" y="36.5">(for organic</tspan><tspan x="4" y="42.2">environmentally friendly</tspan><tspan x="4" y="47.9">ingredients!), barista Q&amp;A</tspan><tspan x="4" y="53.6">without identifying</tspan><tspan x="4" y="59.3">information</tspan></text><text class="a" x="4" y="67">Maggie Kwan</text></g>
<g class="n" id="pg11" transform="translate(385,848)"><rect class="p" width="57" height="57"/><text class="t"><tspan x="4" y="9.5">80% coffee | 20% mission</tspan><tspan x="4" y="15.2">emphasis on social media</tspan><tspan x="4" y="20.9">content to push 1951 ad,</tspan><tspan x="4" y="26.6">theme; coffee = entry point</tspan><tspan x="4" y="32.3">"coffee with a cause"</tspan></text><text class="a" x="4" y="51">Maggie Kwan</text></g>
<g class="n" id="pg12" transform="translate(449,848)"><rect class="b" width="57" height="57"/><text class="t"><tspan x="4" y="9.5">Educational/informational</tspan><tspan x="4" y="15.2">content related to mission;</tspan><tspan x="4" y="20.9">staying away from</tspan><tspan x="4" y="26.6">anything personal or</tspan><tspan x="4" y="32.3">identity-based</tspan></text><text class="a" x="4" y="51">Tina Zou</text></g>
<g class="n" id="pg13" transform="translate(513,848)"><rect class="y" width="57" height="57"/><text class="t"><tspan x="4" y="9.5">promote barista program</tspan><tspan x="4" y="15.2">has been important as it</tspan><tspan x="4" y="20.9">combines coffee shop</tspan><tspan x="4" y="26.6">experience and mission</tspan></text><text class="a" x="4" y="51">Andrea Lauramonte</text></g>
<g class="n" id="pg14" transform="translate(578,848)"><rect class="b" width="57" height="57"/><text class="t"><tspan x="4" y="9.5">Wants to emphasize high-</tspan><tspan x="4" y="15.2">quality coffee. 1951 roasts</tspan><tspan x="4" y="20.9">its own beans</tspan></text><text class="a" x="4" y="51">Tina Zou</text></g>
</g>

<!-- Section 4: Motivations -->
<g id="s4-motivations">
<g class="n" id="mo1" transform="translate(798,746)"><rect class="p" width="57" height="57"/><text class="t"><tspan x="4" y="9.5">Buys drinks very</tspan><tspan x="4" y="15.2">frequently from various</tspan><tspan x="4" y="20.9">coffee shops based on</tspan><tspan x="4" y="26.6">convenience and location</tspan></text><text class="a" x="4" y="51">Maggie Kwan</text></g>
<g class="n" id="mo2" transform="translate(866,746)"><rect class="p" width="57" height="57"/><text class="t"><tspan x="4" y="9.5">Buying coffee or matcha</tspan><tspan x="4" y="15.2">makes her feel productive</tspan><tspan x="4" y="20.9">and ready to start doing</tspan><tspan x="4" y="26.6">work</tspan></text><text class="a" x="4" y="51">Maggie Kwan</text></g>
<g class="n" id="mo3" transform="translate(798,810)"><rect class="p" width="57" height="57"/><text class="t"><tspan x="4" y="9.5">Purchasing drinks on</tspan><tspan x="4" y="15.2">occasion or as a sweet</tspan><tspan x="4" y="20.9">treat or motivation to lock</tspan><tspan x="4" y="26.6">in</tspan></text><text class="a" x="4" y="51">Maggie Kwan</text></g>
<g class="n" id="mo4" transform="translate(866,810)"><rect class="p" width="57" height="57"/><text class="t"><tspan x="4" y="9.5">Drinks coffee for exams</tspan><tspan x="4" y="15.2">because it is especially</tspan><tspan x="4" y="20.9">strong and caffeinated</tspan></text><text class="a" x="4" y="51">Nikki</text></g>
</g>

<!-- Section 4: Incentives -->
<g id="s4-incentives">
<g class="n" id="in1" transform="translate(980,746)"><rect class="g" width="57" height="57"/><text class="t"><tspan x="4" y="9.5">enjoys her favorite coffee</tspan><tspan x="4" y="15.2">shop for its discounts and</tspan><tspan x="4" y="20.9">point systems</tspan></text><text class="a" x="4" y="51">Andrea Lauramonte</text></g>
<g class="n" id="in2" transform="translate(1045,746)"><rect class="p" width="57" height="57"/><text class="t"><tspan x="4" y="9.5">Goes to 1951 the most for</tspan><tspan x="4" y="15.2">studying during exams so</tspan><tspan x="4" y="20.9">goes around 3-4 times</tspan></text><text class="a" x="4" y="51">Nikki</text></g>
<g class="n" id="in3" transform="translate(980,811)"><rect class="p" width="57" height="57"/><text class="t"><tspan x="4" y="9.5">Returns to cafes when it</tspan><tspan x="4" y="15.2">feels like a safe choice for</tspan><tspan x="4" y="20.9">consistent quality, taste,</tspan><tspan x="4" y="26.6">and accessibility (location</tspan><tspan x="4" y="32.3">wise and hours)</tspan></text><text class="a" x="4" y="51">Maggie Kwan</text></g>
<g class="n" id="in4" transform="translate(1045,811)"><rect class="p" width="57" height="57"/><text class="t"><tspan x="4" y="9.5">Customers are more likely</tspan><tspan x="4" y="15.2">to interact more</tspan><tspan x="4" y="20.9">frequently with cafe social</tspan><tspan x="4" y="26.6">media when discounts or</tspan><tspan x="4" y="32.3">giveaways are involved.</tspan></text><text class="a" x="4" y="51">Maggie Kwan</text></g>
<g class="n" id="in5" transform="translate(980,875)"><rect class="p" width="57" height="56"/><text class="t"><tspan x="4" y="9.5">goes to 1951 primarily as a</tspan><tspan x="4" y="15.2">study spot more than for</tspan><tspan x="4" y="20.9">the drinks specifically</tspan></text><text class="a" x="4" y="51">Nikki</text></g>
</g>

<!-- Section 4: Discovery -->
<g id="s4-discovery">
<g class="n" id="dc1" transform="translate(1132,746)"><rect class="g" width="57" height="57"/><text class="t"><tspan x="4" y="9.5">chooses the cafe for</tspan><tspan x="4" y="15.2">convenience and drink</tspan><tspan x="4" y="20.9">quality (favors the strong</tspan><tspan x="4" y="26.6">caffeinated flavor)</tspan></text><text class="a" x="4" y="51">Andrea Lauramonte</text></g>
<g class="n" id="dc2" transform="translate(1196,746)"><rect class="g" width="57" height="57"/><text class="t"><tspan x="4" y="9.5">prioritizes reviews in order</tspan><tspan x="4" y="15.2">to choose a coffee shop</tspan></text><text class="a" x="4" y="51">Andrea Lauramonte</text></g>
<g class="n" id="dc3" transform="translate(1260,746)"><rect class="p" width="57" height="57"/><text class="t"><tspan x="4" y="9.5">Finds coffee shop buy</tspan><tspan x="4" y="15.2">searching on Google Maps</tspan><tspan x="4" y="20.9">first and chooses based</tspan><tspan x="4" y="26.6">on cool name, photos, or</tspan><tspan x="4" y="32.3">reviews</tspan></text><text class="a" x="4" y="51">Nikki</text></g>
<g class="n" id="dc4" transform="translate(1325,746)"><rect class="p" width="57" height="57"/><text class="t"><tspan x="4" y="9.5">Discovers cafes through</tspan><tspan x="4" y="15.2">word of mouth +</tspan><tspan x="4" y="20.9">recommendations from</tspan><tspan x="4" y="26.6">friends primarily</tspan></text><text class="a" x="4" y="51">Maggie Kwan</text></g>
<g class="n" id="dc5" transform="translate(1389,746)"><rect class="g" width="57" height="57"/><text class="t"><tspan x="4" y="9.5">enjoys rebrands for their</tspan><tspan x="4" y="15.2">constant seasonal drinks</tspan><tspan x="4" y="20.9">and deals</tspan></text><text class="a" x="4" y="51">Andrea Lauramonte</text></g>
<g class="n" id="dc6" transform="translate(1454,746)"><rect class="p" width="57" height="57"/><text class="t"><tspan x="4" y="9.5">Discovered 1951 from a</tspan><tspan x="4" y="15.2">promotion on the first day</tspan><tspan x="4" y="20.9">of school for BOGO and</tspan><tspan x="4" y="26.6">location was also</tspan><tspan x="4" y="32.3">convenient and close to</tspan><tspan x="4" y="38">living area</tspan></text><text class="a" x="4" y="51">Mira</text></g>
<g class="n" id="dc7" transform="translate(1132,811)"><rect class="g" width="57" height="57"/><text class="t"><tspan x="4" y="9.5">found the cafe because of</tspan><tspan x="4" y="15.2">self exploration (found it</tspan><tspan x="4" y="20.9">on a walk)</tspan></text><text class="a" x="4" y="51">Andrea Lauramonte</text></g>
<g class="n" id="dc8" transform="translate(1196,811)"><rect class="g" width="57" height="57"/><text class="t"><tspan x="4" y="9.5">finds coffee shops</tspan><tspan x="4" y="15.2">primarily through word of</tspan><tspan x="4" y="20.9">mouth</tspan></text><text class="a" x="4" y="51">Andrea Lauramonte</text></g>
<g class="n" id="dc9" transform="translate(1260,811)"><rect class="p" width="57" height="57"/><text class="t"><tspan x="4" y="9.5">Would be more inclined to</tspan><tspan x="4" y="15.2">try out a new cafe if a</tspan><tspan x="4" y="20.9">friend brought her there or</tspan><tspan x="4" y="26.6">scheduled a bonding</tspan><tspan x="4" y="32.3">there</tspan></text><text class="a" x="4" y="51">Maggie Kwan</text></g>
<g class="n" id="dc10" transform="translate(1325,811)"><rect class="p" width="57" height="57"/><text class="t"><tspan x="4" y="9.5">they discovered</tspan><tspan x="4" y="15.2">organically and not</tspan><tspan x="4" y="20.9">through social media as</tspan><tspan x="4" y="26.6">coffee shop was nearby in</tspan><tspan x="4" y="32.3">location</tspan></text><text class="a" x="4" y="51">Nikki</text></g>
<g class="n" id="dc11" transform="translate(1389,811)"><rect class="p" width="57" height="57"/><text class="t"><tspan x="4" y="9.5">Go-to cafe is Go Matcha</tspan><tspan x="4" y="15.2">because she loves their</tspan><tspan x="4" y="20.9">lattes and usually doesn't</tspan><tspan x="4" y="26.6">try new things, prefers her</tspan><tspan x="4" y="32.3">go-to drinks</tspan></text><text class="a" x="4" y="51">Nikki</text></g>
<g class="n" id="dc12" transform="translate(1454,811)"><rect class="g" width="57" height="57"/><text class="t"><tspan x="4" y="9.5">chooses the cafe for</tspan><tspan x="4" y="15.2">convenience and drink</tspan><tspan x="4" y="20.9">quality (favors the strong</tspan><tspan x="4" y="26.6">caffeinated flavor)</tspan></text><text class="a" x="4" y="51">Andrea Lauramonte</text></g>
<g class="n" id="dc13" transform="translate(1132,875)"><rect class="g" width="57" height="56"/><text class="t"><tspan x="4" y="9.5">engages more so with in</tspan><tspan x="4" y="15.2">person promotion rather</tspan><tspan x="4" y="20.9">than social media</tspan></text><text class="a" x="4" y="51">Andrea Lauramonte</text></g>
<g class="n" id="dc14" transform="translate(1196,875)"><rect class="p" width="57" height="56"/><text class="t"><tspan x="4" y="9.5">Visual branding and</tspan><tspan x="4" y="15.2">aesthetics doesn't play a</tspan><tspan x="4" y="20.9">big role in her choice to</tspan><tspan x="4" y="26.6">return to a cafe -</tspan><tspan x="4" y="32.3">quality is key</tspan></text><text class="a" x="4" y="51">Maggie Kwan</text></g>
<g class="n" id="dc15" transform="translate(1260,875)"><rect class="g" width="57" height="56"/><text class="t"><tspan x="4" y="9.5">utilizes snackpass and</tspan><tspan x="4" y="15.2">tiktoks to find new cafes</tspan></text><text class="a" x="4" y="51">Andrea Lauramonte</text></g>
<g class="n" id="dc16" transform="translate(1325,875)"><rect class="p" width="57" height="56"/><text class="t"><tspan x="4" y="9.5">Discovers coffee shops</tspan><tspan x="4" y="15.2">through Tiktok, Yelp, or</tspan><tspan x="4" y="20.9">word of mouth</tspan></text><text class="a" x="4" y="51">Maggie Kwan</text></g>
</g>

<g id="connectors"></g>
</svg>
